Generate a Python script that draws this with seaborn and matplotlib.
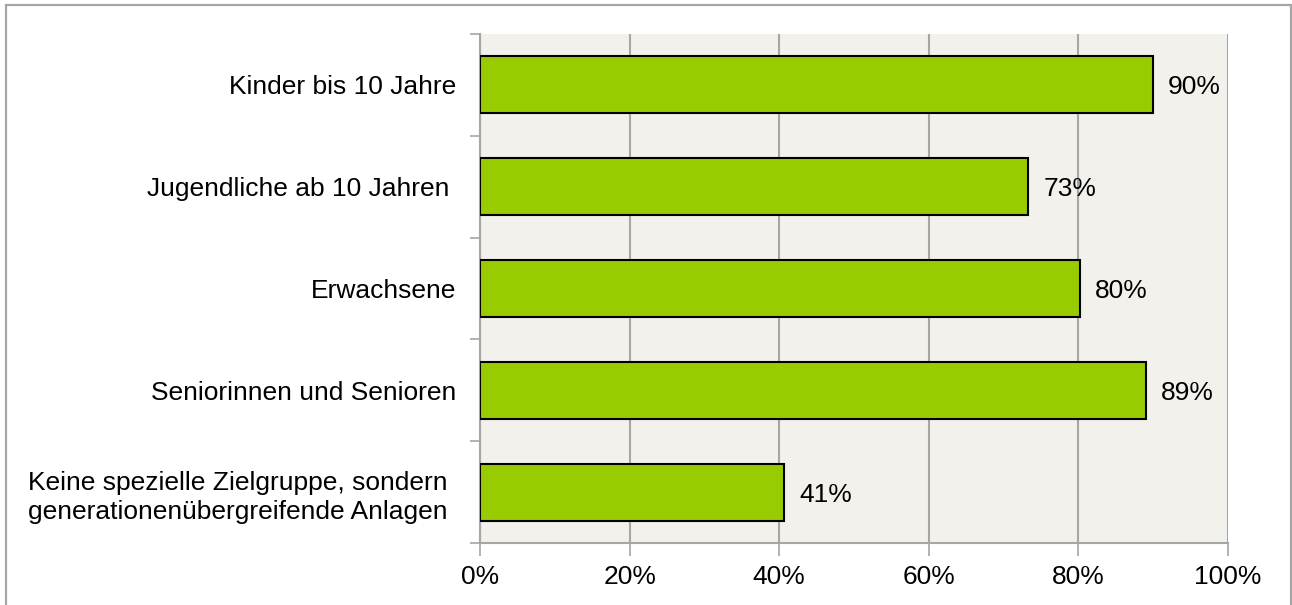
import numpy as np
import pandas as pd
import matplotlib
matplotlib.use("Agg")
import matplotlib.pyplot as plt
import matplotlib.transforms as mtransforms
import seaborn as sns
from matplotlib.patches import Rectangle
from matplotlib.ticker import FuncFormatter

categories = [
    "Kinder bis 10 Jahre",
    "Jugendliche ab 10 Jahren ",
    "Erwachsene",
    "Seniorinnen und Senioren",
    "Keine spezielle Zielgruppe, sondern\ngenerationenübergreifende Anlagen",
]
values = [90.0, 73.3, 80.2, 89.0, 40.7]
value_labels = ["90%", "73%", "80%", "89%", "41%"]
x_ticks = [0, 20, 40, 60, 80, 100]

df = pd.DataFrame({"Zielgruppe": categories, "Anteil": values})

sns.set_style("white")
plt.rcParams["font.family"] = ["Liberation Sans", "DejaVu Sans"]
plt.rcParams["text.color"] = "black"
plt.rcParams["xtick.labelcolor"] = "black"
plt.rcParams["ytick.labelcolor"] = "black"

fig = plt.figure(figsize=(12.92, 6.05), dpi=100)
ax = fig.add_axes([480 / 1292, 1 - 543 / 605, 748 / 1292, 509 / 605])
ax.set_facecolor("#F2F1EC")

sns.barplot(data=df, x="Anteil", y="Zielgruppe", color="#99CC00", width=0.56,
            edgecolor="black", linewidth=1.5, saturation=1, ax=ax, zorder=3)

for i, (v, lab) in enumerate(zip(values, value_labels)):
    ax.text(v + 2.0, i, lab, va="center_baseline", ha="left", fontsize=19, color="black")

ax.set_xlim(0, 100)
ax.set_ylim(4.5, -0.5)
ax.set_xticks(x_ticks)
ax.xaxis.set_major_formatter(FuncFormatter(lambda x, p: f"{x:.0f}%"))
ax.set_yticks(np.arange(-0.5, 5, 1), minor=False)
ax.set_yticklabels([])
ax.set_yticks(np.arange(len(categories)), minor=True)
ax.set_yticklabels(categories, minor=True, fontsize=19, linespacing=1.3, color="black",
                   multialignment="center")
ax.tick_params(axis="y", which="minor", length=0, pad=17)
ax.tick_params(axis="y", which="major", length=7, width=1.2, color="#A6A6A6", direction="out", left=True)
ax.tick_params(axis="x", length=9, width=1.2, color="#A6A6A6", direction="out", bottom=True,
               labelsize=19, pad=7, labelcolor="black")
ax.set_xlabel("")
ax.set_ylabel("")

# the two-line label sits a bit further left in the original
last = ax.get_yticklabels(minor=True)[-1]
last.set_transform(last.get_transform() + mtransforms.ScaledTranslation(-9 / 100, 0, fig.dpi_scale_trans))

ax.grid(axis="x", color="#A6A6A6", linewidth=1.5, zorder=0)
ax.set_axisbelow(True)
for side in ["top", "right"]:
    ax.spines[side].set_visible(False)
for side in ["left", "bottom"]:
    ax.spines[side].set_color("#A6A6A6")
    ax.spines[side].set_linewidth(1.5)

fig.patches.append(Rectangle((6 / 1292, -0.05), 1285 / 1292, 1 - 5 / 605 + 0.05,
                             transform=fig.transFigure, fill=False,
                             edgecolor="#A6A6A6", linewidth=1.6))

fig.savefig("out.png", dpi=100)
